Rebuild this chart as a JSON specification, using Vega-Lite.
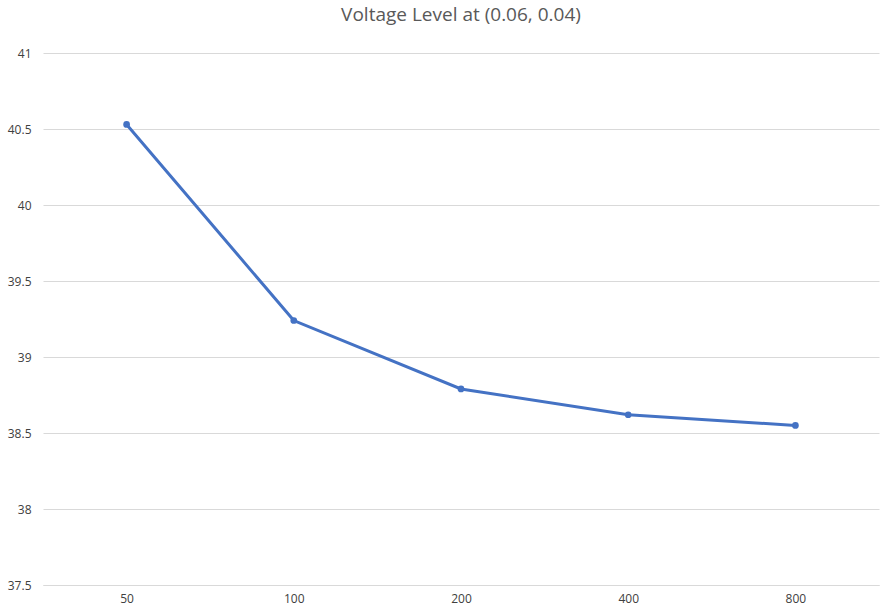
{
  "$schema": "https://vega.github.io/schema/vega-lite/v6.json",
  "width": 836,
  "height": 532,
  "autosize": {"type": "none"},
  "padding": {"left": 43, "top": 53, "right": 6, "bottom": 28},
  "background": "white",
  "title": {"text": "Voltage Level at (0.06, 0.04)", "fontSize": 19, "font": "Open Sans", "fontWeight": "normal", "color": "#595959", "offset": 22, "anchor": "middle"},
  "data": {
    "values": [
      {"n": 50, "v": 40.53},
      {"n": 100, "v": 39.24},
      {"n": 200, "v": 38.79},
      {"n": 400, "v": 38.62},
      {"n": 800, "v": 38.55}
    ]
  },
  "mark": {"type": "line", "color": "#4472c4", "strokeWidth": 3, "point": {"filled": true, "size": 45, "color": "#4472c4"}},
  "encoding": {
    "x": {"field": "n", "type": "ordinal", "title": null,
      "scale": {"paddingInner": 0, "paddingOuter": 0},
      "axis": {"labelAngle": 0, "domainColor": "#d9d9d9", "ticks": false, "labelColor": "#404040", "labelFontSize": 12, "labelFont": "Open Sans", "labelPadding": 8}},
    "y": {"field": "v", "type": "quantitative", "title": null,
      "scale": {"domain": [37.5, 41], "nice": false, "zero": false},
      "axis": {"values": [37.5, 38, 38.5, 39, 39.5, 40, 40.5, 41], "format": "~f", "gridColor": "#d9d9d9", "domain": false, "ticks": false, "labelColor": "#404040", "labelFontSize": 12, "labelFont": "Open Sans", "labelPadding": 12}}
  },
  "config": {"view": {"stroke": null}}
}
